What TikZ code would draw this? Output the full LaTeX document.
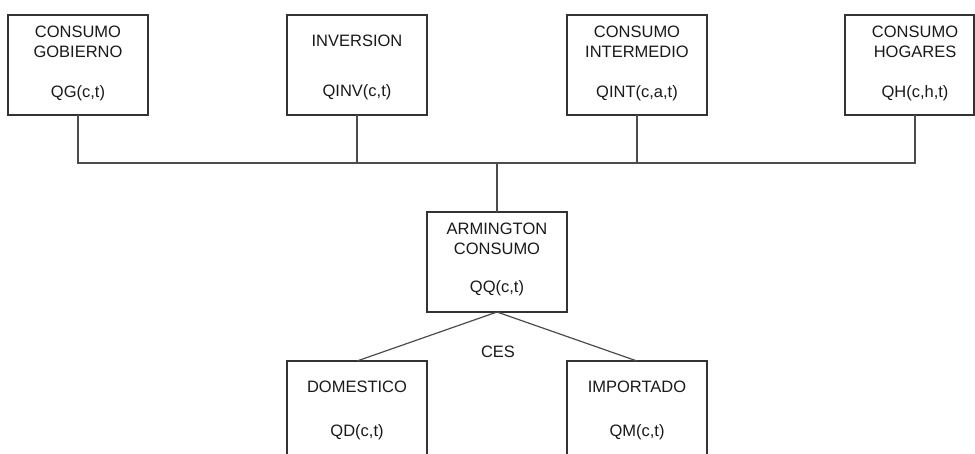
\documentclass[tikz,border=0pt]{standalone}
\usepackage{fontspec}
\setmainfont{Liberation Sans}
\begin{document}
\begin{tikzpicture}[x=1pt,y=-1pt,
  box/.style={draw=black!80,line width=1.2pt,minimum width=140pt,minimum height=100pt,inner sep=0pt,outer sep=0pt},
  lbl/.style={font=\fontsize{16.5}{20}\selectfont,align=center,inner sep=0pt,text=black!90},
  conn/.style={draw=black!70,line width=1.2pt}]
\useasboundingbox (0,0) rectangle (975,453);
\clip (0,0) rectangle (975,453);
% top boxes
\node[box] (g) at (78,65) {};
\node[box] (inv) at (357,65) {};
\node[box] (int) at (637,65) {};
\node[box,minimum width=129pt] (hog) at (909.5,65) {};
\node[lbl] (gt1) at (78,41.5) {CONSUMO\\GOBIERNO};
\node[lbl] (gt2) at (78,93) {QG(c,t)};
\node[lbl] (it1) at (357,40.5) {INVERSION};
\node[lbl] (it2) at (357,92.5) {QINV(c,t)};
\node[lbl] (nt1) at (637,41.5) {CONSUMO\\INTERMEDIO};
\node[lbl] (nt2) at (637,93) {QINT(c,a,t)};
\node[lbl] (ht1) at (915,41.5) {CONSUMO\\HOGARES};
\node[lbl] (ht2) at (915,93) {QH(c,h,t)};
% centre box
\node[box] (arm) at (497,262) {};
\node[lbl] (at1) at (497,238.5) {ARMINGTON\\CONSUMO};
\node[lbl] (at2) at (497,288.5) {QQ(c,t)};
% bottom boxes
\node[box] (dom) at (357,411) {};
\node[box] (imp) at (637,411) {};
\node[lbl] (dt1) at (357,387) {DOMESTICO};
\node[lbl] (dt2) at (357,432) {QD(c,t)};
\node[lbl] (mt1) at (637,387) {IMPORTADO};
\node[lbl] (mt2) at (637,432) {QM(c,t)};
\node[lbl] (ces) at (498,352) {CES};
% connectors
\coordinate (hl) at (78,163);
\coordinate (hr) at (915,163);
\coordinate (hc) at (497,163);
\draw[conn] (g.south) -- (hl) -- (hr) -- (hr |- hog.south);
\draw[conn] (inv.south) -- (inv.south |- hl);
\draw[conn] (int.south) -- (int.south |- hl);
\draw[conn] (hc) -- (arm.north);
\draw[conn] (arm.south) -- (dom.north);
\draw[conn] (arm.south) -- (imp.north);
\end{tikzpicture}
\end{document}
